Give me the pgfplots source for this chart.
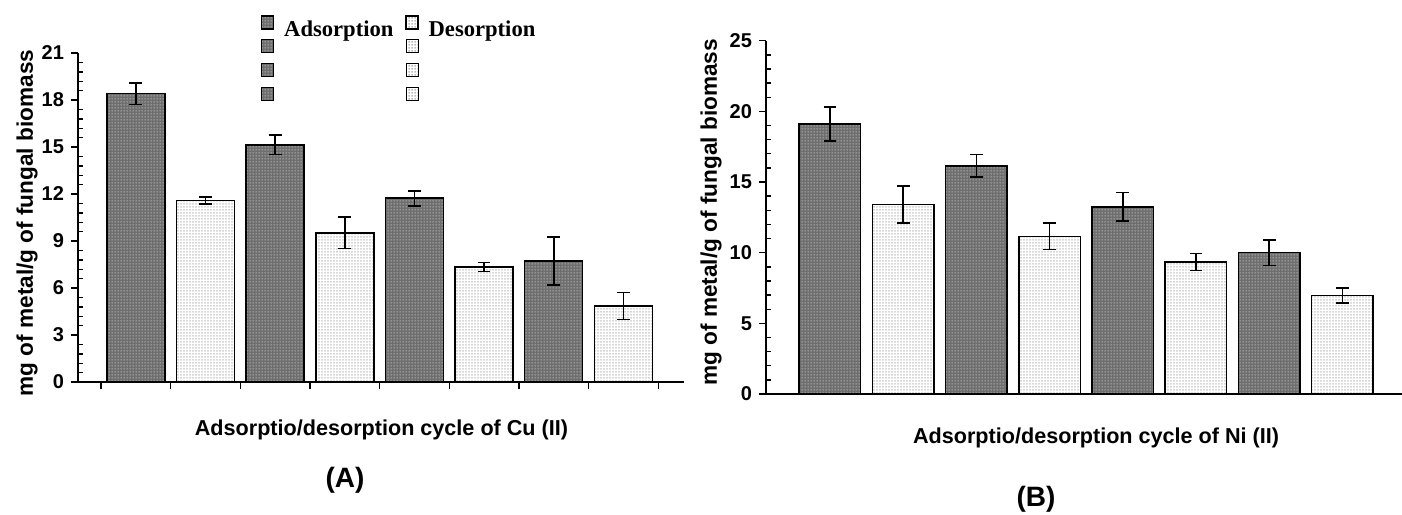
\documentclass[border=0pt]{standalone}
\usepackage{fontspec}
\setmainfont{Liberation Sans}
\newfontfamily\timesf{Liberation Serif}
\usepackage{pgfplots}
\pgfplotsset{compat=1.18}
\usetikzlibrary{patterns.meta}

\tikzdeclarepattern{name=adsdots, type=uncolored,
  bounding box={(0pt,0pt) and (1.5pt,1.5pt)}, tile size={(1.5pt,1.5pt)},
  code={\fill (0.45pt,0.45pt) rectangle (1.05pt,1.05pt);}}
\tikzdeclarepattern{name=desdots, type=uncolored,
  bounding box={(0pt,0pt) and (1.5pt,1.5pt)}, tile size={(1.5pt,1.5pt)},
  code={\fill (0.45pt,0.3pt) rectangle (0.95pt,1.2pt);}}

\definecolor{adsfill}{RGB}{110,110,110}
\definecolor{adsdot}{RGB}{200,200,200}
\definecolor{desdot}{RGB}{150,150,150}

\tikzset{
  adsbar/.style={draw=black, line width=0.75pt, fill=adsfill, postaction={pattern=adsdots, pattern color=adsdot}},
  desbar/.style={draw=black, line width=0.75pt, fill=white, postaction={pattern=desdots, pattern color=desdot}},
  adsnob/.style={fill=adsfill, postaction={pattern=adsdots, pattern color=adsdot}},
  desnob/.style={fill=white, postaction={pattern=desdots, pattern color=desdot}},
}

\newcommand\lstrut{\rule[-3pt]{0pt}{11.75pt}}

\pgfplotsset{
  common/.style={
    scale only axis,
    axis x line*=bottom, axis y line*=left,
    axis line style={-, line width=0.8pt, black},
    clip=false,
    tick style={black, line width=0.7pt},
    tick align=outside,
    major tick length=3.5pt, minor tick length=2.5pt,
    minor y tick num=4,
    minor y tick style={xshift=2.5pt},
    yticklabel style={font=\fontsize{10}{12}\selectfont\bfseries},
    /pgf/number format/assume math mode=true,
    ylabel style={font=\fontsize{11.3}{13}\selectfont\bfseries, anchor=center},
    xlabel style={font=\fontsize{10.8}{12}\selectfont\bfseries, anchor=center},
    ymin=0,
  },
  errs/.style={forget plot, draw=none, mark=none,
    error bars/.cd, y dir=both, y explicit,
    error bar style={draw=black, solid, line width=0.8pt},
    error mark options={draw=black, solid, rotate=90, mark size=3.2pt, line width=0.8pt}},
}

\begin{document}
\begin{tikzpicture}
\path[use as bounding box] (0,0) rectangle (701pt,257pt);

% ---------- Panel A ----------
\begin{axis}[common,
  at={(39pt,66pt)}, anchor=south west,
  width=303pt, height=164.5pt,
  xmin=-0.83, xmax=7.87, ymax=21,
  ytick={0,3,...,21},
  xtick={-0.5,0.5,...,7.5}, xticklabels={},
  ylabel={mg of metal/g of fungal biomass},
  ylabel style={at={(axis description cs:-0.0842,0.483)}},
  xlabel={Adsorptio/desorption cycle of Cu (II)},
  xlabel style={at={(axis description cs:0.5008,-0.146)}},
  legend columns=2,
  legend cell align=left,
  legend style={at={(axis description cs:0.302,1.114)}, anchor=north west,
    draw=none, fill=none, inner sep=0pt, outer sep=0pt, row sep=0pt,
    font=\timesf\bfseries\fontsize{11.3}{12}\selectfont,
    nodes={inner sep=0pt, outer sep=0pt},
    /tikz/every odd column/.append style={column sep=5pt},
    /tikz/every even column/.append style={column sep=6pt}},
]
\addplot[ybar, bar width=0.833, bar shift=0pt, adsbar, forget plot]
  coordinates {(0,18.4) (2,15.13) (4,11.73) (6,7.72)};
\addplot[ybar, bar width=0.833, bar shift=0pt, desbar, forget plot]
  coordinates {(1,11.6) (3,9.52) (5,7.35) (7,4.85)};
\addplot[errs] coordinates {(0,18.4) +- (0,0.70) (2,15.13) +- (0,0.62) (4,11.73) +- (0,0.48) (6,7.72) +- (0,1.54)};
\addplot[errs] coordinates {(1,11.6) +- (0,0.22) (3,9.52) +- (0,1.0) (5,7.35) +- (0,0.29) (7,4.85) +- (0,0.87)};

\addlegendimage{legend image code/.code={\draw[adsbar, line width=0.6pt] (0pt,0pt) rectangle (6pt,6.5pt);}}
\addlegendentry{\lstrut Adsorption}
\addlegendimage{legend image code/.code={\draw[desbar, line width=0.6pt] (0pt,0pt) rectangle (6pt,6.5pt);}}
\addlegendentry{\lstrut Desorption}
\addlegendimage{legend image code/.code={\path[adsnob] (0pt,0pt) rectangle (6pt,6.5pt);}}
\addlegendentry{\lstrut}
\addlegendimage{legend image code/.code={\path[desnob] (0pt,0pt) rectangle (6pt,6.5pt);}}
\addlegendentry{\lstrut}
\addlegendimage{legend image code/.code={\path[adsnob] (0pt,0pt) rectangle (6pt,6.5pt);}}
\addlegendentry{\lstrut}
\addlegendimage{legend image code/.code={\path[desnob] (0pt,0pt) rectangle (6pt,6.5pt);}}
\addlegendentry{\lstrut}
\addlegendimage{legend image code/.code={\path[adsnob] (0pt,0pt) rectangle (6pt,6.5pt);}}
\addlegendentry{\lstrut}
\addlegendimage{legend image code/.code={\path[desnob] (0pt,0pt) rectangle (6pt,6.5pt);}}
\addlegendentry{\lstrut}

\node[font=\fontsize{14}{16}\selectfont\bfseries] at (axis description cs:0.4406,-0.298) {(A)};
\end{axis}

% ---------- Panel B ----------
\begin{axis}[common,
  at={(383pt,60pt)}, anchor=south west,
  width=318pt, height=176.65pt,
  xmin=-0.874, xmax=7.815, ymax=25,
  ytick={0,5,...,25},
  xtick=\empty,
  ylabel={mg of metal/g of fungal biomass},
  ylabel style={at={(axis description cs:-0.0865,0.514)}},
  xlabel={Adsorptio/desorption cycle of Ni (II)},
  xlabel style={at={(axis description cs:0.519,-0.1245)}},
  axis line style={-, line width=1pt, black},
]
\addplot[ybar, bar width=0.84, bar shift=0pt, adsbar, forget plot]
  coordinates {(0,19.12) (2,16.15) (4,13.25) (6,10.0)};
\addplot[ybar, bar width=0.84, bar shift=0pt, desbar, forget plot]
  coordinates {(1,13.4) (3,11.15) (5,9.33) (7,6.98)};
\addplot[errs] coordinates {(0,19.12) +- (0,1.2) (2,16.15) +- (0,0.8) (4,13.25) +- (0,1.0) (6,10.0) +- (0,0.9)};
\addplot[errs] coordinates {(1,13.4) +- (0,1.3) (3,11.15) +- (0,0.93) (5,9.33) +- (0,0.6) (7,6.98) +- (0,0.53)};

\node[font=\fontsize{14}{16}\selectfont\bfseries] at (axis description cs:0.4245,-0.297) {(B)};
\end{axis}
\end{tikzpicture}
\end{document}
